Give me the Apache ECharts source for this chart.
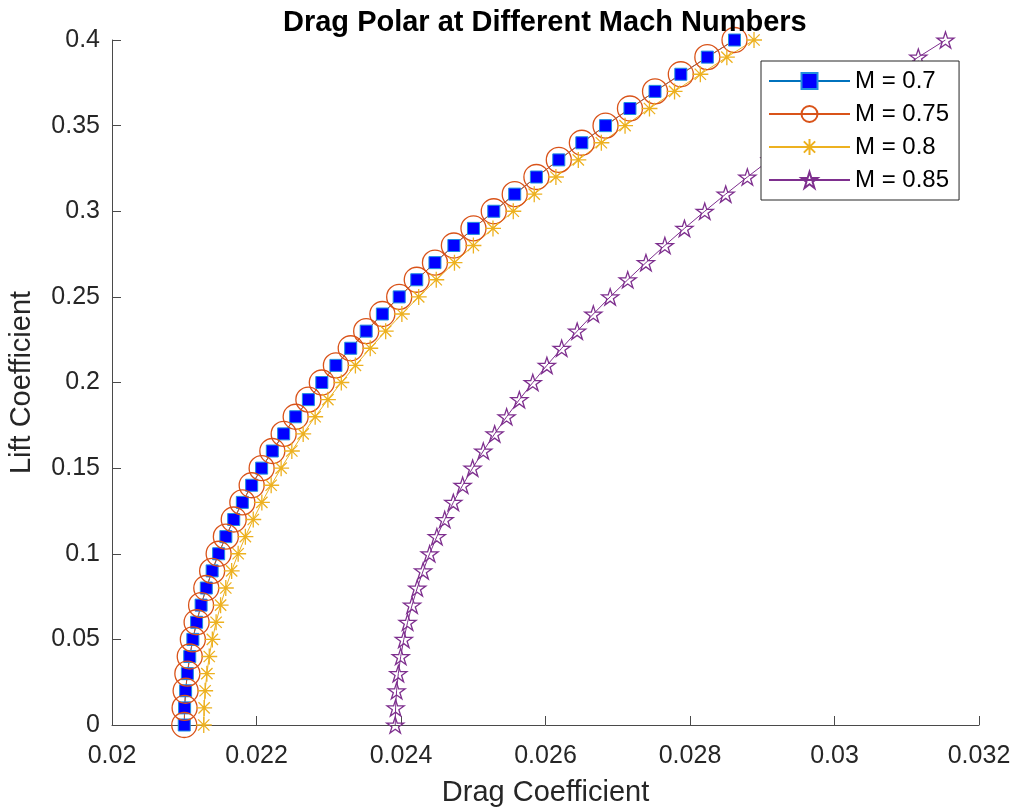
<!DOCTYPE html>
<html>
<head>
<meta charset="utf-8">
<title>Drag Polar at Different Mach Numbers</title>
<script src="https://cdn.jsdelivr.net/npm/echarts@6/dist/echarts.min.js"></script>
<style>
  html, body { margin: 0; padding: 0; background: #ffffff; }
  #chart { width: 1017px; height: 809px; }
</style>
</head>
<body>
<div id="chart"></div>
<script>
// Lift coefficient samples shared by every curve
const liftCoeff = [
  0.00, 0.01, 0.02, 0.03, 0.04, 0.05, 0.06, 0.07, 0.08, 0.09,
  0.10, 0.11, 0.12, 0.13, 0.14, 0.15, 0.16, 0.17, 0.18, 0.19,
  0.20, 0.21, 0.22, 0.23, 0.24, 0.25, 0.26, 0.27, 0.28, 0.29,
  0.30, 0.31, 0.32, 0.33, 0.34, 0.35, 0.36, 0.37, 0.38, 0.39, 0.40
];

// Drag coefficient for each Mach number
const dragM070 = [
  0.021000, 0.021005, 0.021019, 0.021043, 0.021076, 0.021119, 0.021171, 0.021233, 0.021305, 0.021386,
  0.021476, 0.021576, 0.021685, 0.021804, 0.021933, 0.022071, 0.022219, 0.022376, 0.022542, 0.022718,
  0.022904, 0.023099, 0.023304, 0.023518, 0.023742, 0.023975, 0.024218, 0.024470, 0.024732, 0.025003,
  0.025284, 0.025574, 0.025874, 0.026184, 0.026503, 0.026831, 0.027169, 0.027516, 0.027873, 0.028240, 0.028616
];
const dragM075 = [
  0.021000, 0.021005, 0.021019, 0.021043, 0.021076, 0.021119, 0.021171, 0.021233, 0.021305, 0.021386,
  0.021476, 0.021576, 0.021685, 0.021804, 0.021933, 0.022071, 0.022219, 0.022376, 0.022542, 0.022718,
  0.022904, 0.023099, 0.023304, 0.023518, 0.023742, 0.023975, 0.024218, 0.024470, 0.024732, 0.025003,
  0.025284, 0.025574, 0.025874, 0.026184, 0.026503, 0.026831, 0.027169, 0.027516, 0.027873, 0.028240, 0.028616
];
const dragM080 = [
  0.021270, 0.021275, 0.021289, 0.021313, 0.021346, 0.021389, 0.021441, 0.021503, 0.021575, 0.021656,
  0.021746, 0.021846, 0.021955, 0.022074, 0.022203, 0.022341, 0.022489, 0.022646, 0.022812, 0.022988,
  0.023174, 0.023369, 0.023574, 0.023788, 0.024012, 0.024245, 0.024488, 0.024740, 0.025002, 0.025273,
  0.025554, 0.025844, 0.026144, 0.026454, 0.026773, 0.027101, 0.027439, 0.027786, 0.028143, 0.028510, 0.028886
];
const dragM085 = [
  0.023920, 0.023925, 0.023939, 0.023963, 0.023996, 0.024039, 0.024091, 0.024153, 0.024225, 0.024306,
  0.024396, 0.024496, 0.024605, 0.024724, 0.024853, 0.024991, 0.025139, 0.025296, 0.025462, 0.025638,
  0.025824, 0.026019, 0.026224, 0.026438, 0.026662, 0.026895, 0.027138, 0.027390, 0.027652, 0.027923,
  0.028204, 0.028494, 0.028794, 0.029104, 0.029423, 0.029751, 0.030089, 0.030436, 0.030793, 0.031160, 0.031536
];

const seriesNames = ['M = 0.7', 'M = 0.75', 'M = 0.8', 'M = 0.85'];

// Axis ranges and tick spacing
const xMin = 0.02, xMax = 0.032, xStep = 0.002;
const yMin = 0, yMax = 0.4, yStep = 0.05;

const FONT = '"Liberation Sans", Arial, Helvetica, sans-serif';
const AXIS_COLOR = '#4a4a4a';
const TEXT_COLOR = '#262626';

const asteriskPath = 'path://M0,-10L0,10M-10,0L10,0M-7.07,-7.07L7.07,7.07M-7.07,7.07L7.07,-7.07';
const pentagramPath = 'path://M0,-100L22.45,-30.9L95.11,-30.9L36.33,11.8L58.78,80.9L0,38.2L-58.78,80.9L-36.33,11.8L-95.11,-30.9L-22.45,-30.9Z';

function pairs(drag) {
  return liftCoeff.map((cl, i) => [drag[i], cl]);
}

const fmt = v => String(parseFloat(v.toFixed(4)));

const chart = echarts.init(document.getElementById('chart'), null, { renderer: 'canvas' });

chart.setOption({
  animation: false,
  backgroundColor: '#ffffff',
  title: {
    text: 'Drag Polar at Different Mach Numbers',
    left: 283,
    top: 8,
    padding: 0,
    textStyle: { fontFamily: FONT, fontSize: 29, fontWeight: 'bold', color: '#000000' }
  },
  grid: { left: 112, right: 38, top: 40, bottom: 84, outerBoundsMode: 'none', containLabel: false },
  legend: {
    orient: 'vertical',
    left: 761,
    top: 61,
    z: 20,
    padding: [8, 10, 8, 7],
    itemWidth: 81,
    itemHeight: 20,
    itemGap: 9,
    backgroundColor: '#ffffff',
    borderColor: '#262626',
    borderWidth: 1,
    borderRadius: 0,
    textStyle: { fontFamily: FONT, fontSize: 24, color: '#000000' },
    data: seriesNames
  },
  xAxis: {
    type: 'value',
    min: xMin, max: xMax, interval: xStep,
    name: 'Drag Coefficient',
    nameLocation: 'middle',
    nameGap: 53,
    nameTextStyle: { fontFamily: FONT, fontSize: 29, color: TEXT_COLOR },
    axisLine: { show: true, onZero: false, lineStyle: { color: AXIS_COLOR, width: 1 } },
    axisTick: { show: true, inside: true, length: 9, lineStyle: { color: AXIS_COLOR, width: 1 } },
    axisLabel: { margin: 19, fontFamily: FONT, fontSize: 25, color: TEXT_COLOR, formatter: fmt },
    splitLine: { show: false }
  },
  yAxis: {
    type: 'value',
    min: yMin, max: yMax, interval: yStep,
    name: 'Lift Coefficient',
    nameLocation: 'middle',
    nameGap: 76,
    nameTextStyle: { fontFamily: FONT, fontSize: 29, color: TEXT_COLOR },
    axisLine: { show: true, onZero: false, lineStyle: { color: AXIS_COLOR, width: 1 } },
    axisTick: { show: true, inside: true, length: 9, lineStyle: { color: AXIS_COLOR, width: 1 } },
    axisLabel: { margin: 12, fontFamily: FONT, fontSize: 25, color: TEXT_COLOR, formatter: fmt },
    splitLine: { show: false }
  },
  series: [
    {
      name: seriesNames[0],
      type: 'line',
      data: pairs(dragM070),
      symbol: 'rect',
      symbolSize: 12,
      lineStyle: { color: '#0072BD', width: 1 },
      itemStyle: { color: '#0000FF', borderColor: '#1f8fe0', borderWidth: 1 }
    },
    {
      name: seriesNames[1],
      type: 'line',
      data: pairs(dragM075),
      symbol: 'circle',
      symbolSize: 25,
      lineStyle: { color: '#D95319', width: 1 },
      itemStyle: { color: 'rgba(255,255,255,0)', borderColor: '#D95319', borderWidth: 1.3 }
    },
    {
      name: seriesNames[2],
      type: 'line',
      data: pairs(dragM080),
      symbol: asteriskPath,
      symbolSize: 16,
      symbolKeepAspect: true,
      lineStyle: { color: '#EDB120', width: 1 },
      itemStyle: { color: 'rgba(255,255,255,0)', borderColor: '#EDB120', borderWidth: 1.3 }
    },
    {
      name: seriesNames[3],
      type: 'line',
      data: pairs(dragM085),
      symbol: pentagramPath,
      symbolSize: 17,
      symbolKeepAspect: true,
      lineStyle: { color: '#7E2F8E', width: 1 },
      itemStyle: { color: 'rgba(255,255,255,0)', borderColor: '#7E2F8E', borderWidth: 1.3 }
    }
  ]
});
</script>
</body>
</html>
